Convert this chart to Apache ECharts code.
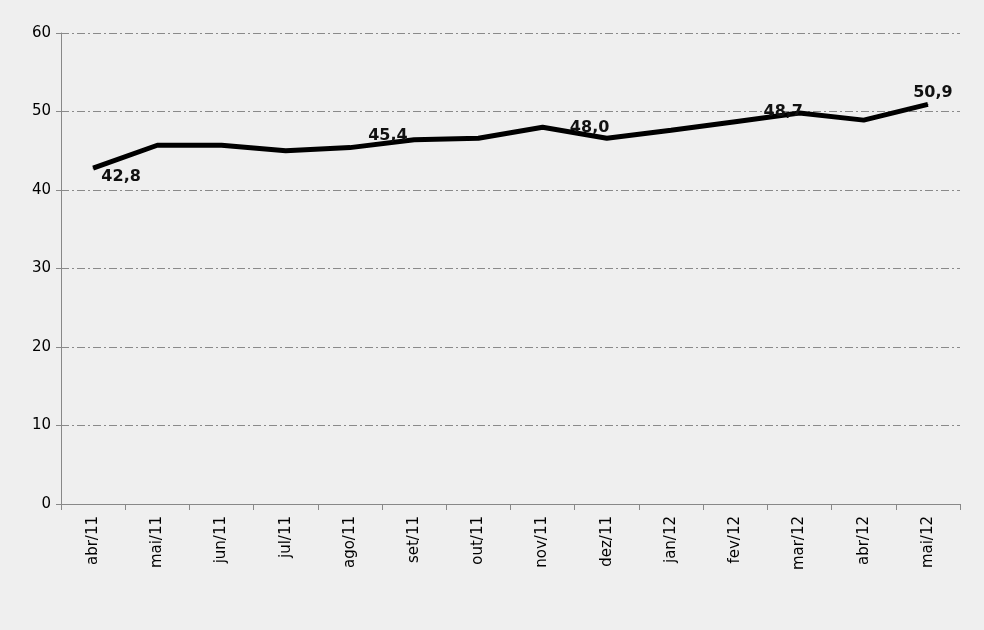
<!DOCTYPE html>
<html>
<head>
<meta charset="utf-8">
<script src="https://cdn.jsdelivr.net/npm/echarts@6/dist/echarts.min.js"></script>
<style>html,body{margin:0;padding:0;background:#efefef}#chart{width:984px;height:630px}</style>
</head>
<body>
<div id="chart"></div>
<script>
// meses e valores
var months = ['abr/11','mai/11','jun/11','jul/11','ago/11','set/11','out/11','nov/11','dez/11','jan/12','fev/12','mar/12','abr/12','mai/12'];
var values = [42.8, 45.7, 45.7, 45.0, 45.4, 46.4, 46.6, 48.0, 46.6, 47.6, 48.7, 49.8, 48.9, 50.9];
var yTicks = [0, 10, 20, 30, 40, 50, 60];

// onde aparecem os rotulos (indice -> deslocamento)
var labelOffsets = {0: [28, 22], 4: [38, 2], 7: [47, 14], 10: [48, 4], 13: [5, 2]};

var data = values.map(function (v, i) {
    var item = {value: v};
    if (labelOffsets[i]) {
        item.label = {show: true, position: 'top', offset: labelOffsets[i]};
    }
    return item;
});

var chart = echarts.init(document.getElementById('chart'));
chart.setOption({
    backgroundColor: '#efefef',
    animation: false,
    grid: {left: 61, right: 24, top: 33, bottom: 126},
    xAxis: {
        type: 'category',
        data: months,
        boundaryGap: true,
        axisLine: {lineStyle: {color: '#888'}},
        axisTick: {show: true, lineStyle: {color: '#888'}, length: 6},
        axisLabel: {rotate: 90, color: '#000', fontSize: 15, fontFamily: 'DejaVu Sans', margin: 12}
    },
    yAxis: {
        type: 'value',
        min: yTicks[0], max: yTicks[yTicks.length - 1], interval: 10,
        axisLine: {show: true, lineStyle: {color: '#888'}},
        axisTick: {show: true, lineStyle: {color: '#888'}},
        axisLabel: {color: '#000', fontSize: 15, fontFamily: 'DejaVu Sans', margin: 10},
        splitLine: {lineStyle: {color: '#8a8a8a', type: [8, 3, 2, 3], width: 1}}
    },
    series: [{
        type: 'line',
        data: data,
        symbol: 'circle',
        symbolSize: 1,
        showSymbol: true,
        itemStyle: {color: '#000'},
        lineStyle: {color: '#000', width: 5},
        label: {
            show: false, color: '#111', fontWeight: 'bold', fontSize: 16, fontFamily: 'DejaVu Sans',
            formatter: function (p) { return p.value.toFixed(1).replace('.', ','); }
        }
    }]
});
</script>
</body>
</html>
